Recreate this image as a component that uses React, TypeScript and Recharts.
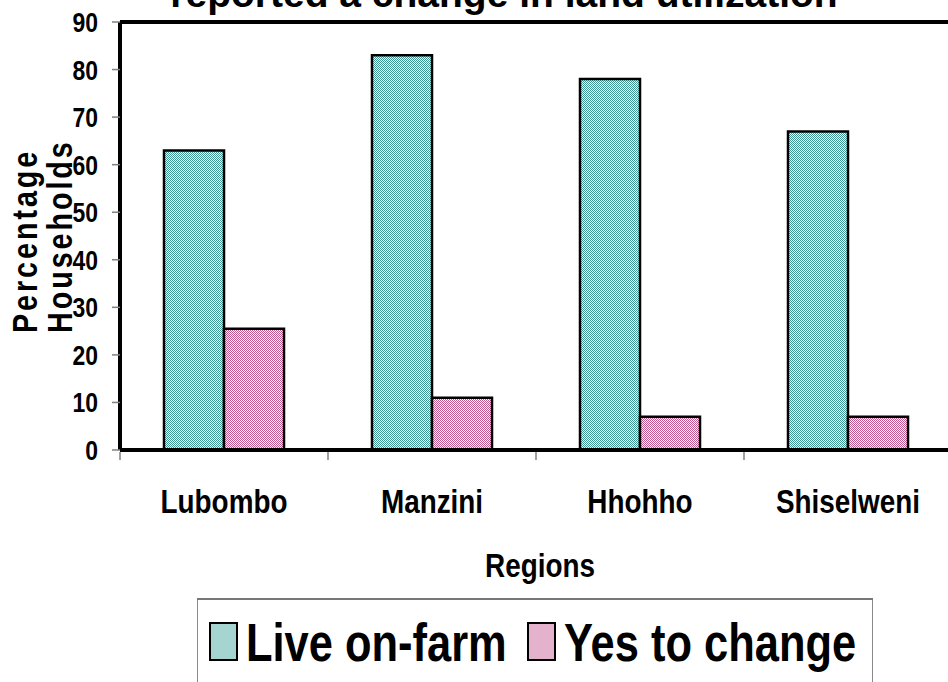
import React from "react";
import {
  Bar,
  BarChart,
  Label,
  Legend,
  ReferenceLine,
  XAxis,
  YAxis,
} from "recharts";

const regions = ["Lubombo", "Manzini", "Hhohho", "Shiselweni"];
const liveOnFarm = [63, 83, 78, 67];
const yesToChange = [25.5, 11, 7, 7];
const yTicks = [0, 10, 20, 30, 40, 50, 60, 70, 80, 90];
const seriesNames = ["Live on-farm", "Yes to change"];

const data = regions.map((region, i) => ({
  region,
  live: liveOnFarm[i],
  yes: yesToChange[i],
}));

const FONT = "'Liberation Sans', Arial, sans-serif";
const SQUEEZE = 0.82;
const TEAL = "#3a9994";
const PINK = "#c05590";
// flat average of the checker, used for the small legend swatches
const swatchColor: Record<string, string> = { live: "#a6d4d0", yes: "#e4b2cd" };

// 2x2 checker like the old Excel dithered fills
const Checker = ({ id, color }: { id: string; color: string }) => (
  <pattern id={id} width="2" height="2" patternUnits="userSpaceOnUse">
    <rect width="2" height="2" fill="#fff" />
    <rect width="1" height="1" fill={color} />
    <rect x="1" y="1" width="1" height="1" fill={color} />
  </pattern>
);

// narrow bold text: Arial Narrow isn't installed, squeeze Liberation Sans
const NarrowText = ({ x, y, size, anchor, rotate, spacing, children }: any) => (
  <text
    transform={`translate(${x},${y})${rotate ? ` rotate(${rotate})` : ""} scale(${SQUEEZE},1)`}
    textAnchor={anchor || "start"}
    fontFamily={FONT}
    fontWeight={700}
    fontSize={size}
    letterSpacing={spacing || 0}
    fill="#000"
  >
    {children}
  </text>
);

const RegionTick = (props: any) => {
  const { x, y, payload } = props;
  const half = payload && payload.offset != null ? payload.offset : 104;
  return (
    <g>
      <line
        x1={x - half}
        x2={x - half}
        y1={y + 2}
        y2={y + 10}
        stroke="#808080"
        strokeWidth={1.5}
      />
      <NarrowText x={x} y={y + 63} size={34} anchor="middle">
        {payload.value}
      </NarrowText>
    </g>
  );
};

const ValueTick = (props: any) => {
  const { x, y, payload } = props;
  return (
    <NarrowText x={x} y={y + 10} size={28} anchor="end">
      {payload.value}
    </NarrowText>
  );
};

const LegendBox = (props: any) => {
  const items = props.payload || [];
  return (
    <svg width={676} height={100} style={{ display: "block" }}>
      <rect
        x={0.5}
        y={1}
        width={675}
        height={120}
        fill="#fff"
        stroke="#8a8a8a"
        strokeWidth={1}
      />
      <line x1={0} x2={676} y1={1} y2={1} stroke="#777" strokeWidth={2} />
      {items.map((entry: any, i: number) => {
        const sx = 13 + i * 318;
        return (
          <g key={i}>
            <rect
              x={sx}
              y={25}
              width={27}
              height={37}
              fill={swatchColor[entry.dataKey] || (i ? swatchColor.yes : swatchColor.live)}
              stroke="#000"
              strokeWidth={2}
            />
            <NarrowText x={sx + 36} y={63} size={53}>
              {entry.value}
            </NarrowText>
          </g>
        );
      })}
    </svg>
  );
};

const App = () => {
  return (
    <div
      style={{
        position: "absolute",
        left: 0,
        top: 0,
        width: 948,
        height: 682,
        overflow: "hidden",
        background: "#fff",
      }}
    >
      <BarChart
        width={956}
        height={682}
        data={data}
        margin={{ top: 22, right: 4, left: 0, bottom: 100 }}
        barGap={0}
        barSize={60}
      >
        <defs>
          <Checker id="tealChk" color={TEAL} />
          <Checker id="pinkChk" color={PINK} />
        </defs>
        <XAxis
          dataKey="region"
          height={132}
          interval={0}
          tickSize={0}
          tickMargin={0}
          tickLine={false}
          axisLine={{ stroke: "#000", strokeWidth: 4 }}
          tick={<RegionTick />}
        >
          <Label
            content={(p: any) => {
              const vb = p.viewBox || { x: 120, y: 450, width: 832 };
              return (
                <NarrowText
                  x={vb.x + vb.width / 2 + 4}
                  y={vb.y + 127}
                  size={34}
                  anchor="middle"
                >
                  Regions
                </NarrowText>
              );
            }}
          />
        </XAxis>
        <YAxis
          width={120}
          domain={[0, 90]}
          ticks={yTicks}
          interval={0}
          tickSize={8}
          tickMargin={14}
          axisLine={{ stroke: "#000", strokeWidth: 4 }}
          tickLine={{ stroke: "#808080", strokeWidth: 1.5 }}
          tick={<ValueTick />}
        >
          <Label
            content={(p: any) => {
              const vb = p.viewBox || { x: 0, y: 22, height: 428 };
              const by = vb.y + 311;
              return (
                <g>
                  <NarrowText x={37} y={by} size={35} rotate={-90} spacing={3.6}>
                    Percentage
                  </NarrowText>
                  <NarrowText x={72} y={by} size={35} rotate={-90} spacing={3.6}>
                    Households
                  </NarrowText>
                </g>
              );
            }}
          />
        </YAxis>
        <ReferenceLine y={90} stroke="#000" strokeWidth={4} />
        <Legend
          layout="horizontal"
          verticalAlign="middle"
          align="center"
          wrapperStyle={{
            position: "absolute",
            left: 197,
            top: 598,
            width: 676,
            height: 100,
          }}
          content={<LegendBox />}
        />
        <Bar
          dataKey="live"
          name={seriesNames[0]}
          fill="url(#tealChk)"
          stroke="#000"
          strokeWidth={2.5}
          isAnimationActive={false}
        />
        <Bar
          dataKey="yes"
          name={seriesNames[1]}
          fill="url(#pinkChk)"
          stroke="#000"
          strokeWidth={2.5}
          isAnimationActive={false}
        />
      </BarChart>
      <svg
        width={948}
        height={30}
        style={{ position: "absolute", left: 0, top: 0, pointerEvents: "none" }}
      >
        <text
          x={504}
          y={7}
          textAnchor="middle"
          fontFamily={FONT}
          fontWeight={700}
          fontSize={39}
          fill="#000"
        >
          reported a change in land utilization
        </text>
      </svg>
    </div>
  );
};

export default App;
